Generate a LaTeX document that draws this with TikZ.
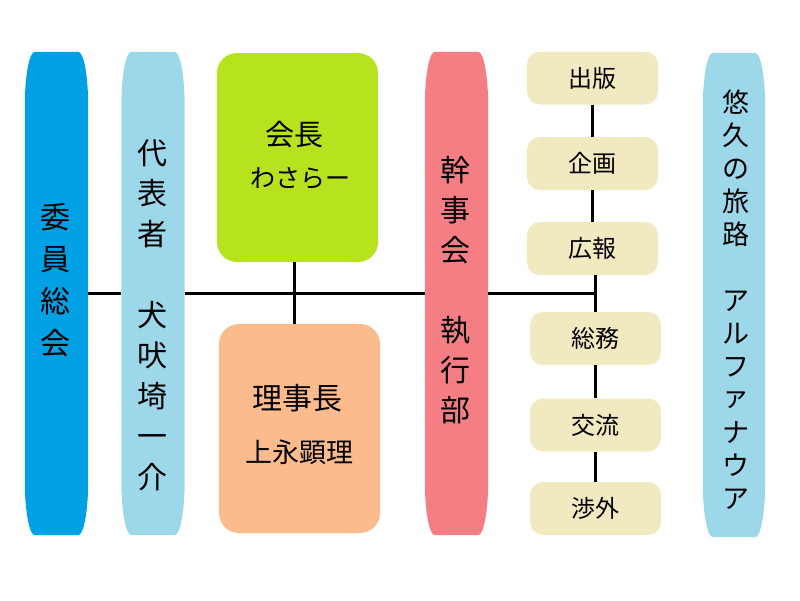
\documentclass[tikz,border=0pt]{standalone}
\usepackage{fontspec}
\newfontfamily\jp{Noto Sans CJK JP}
\usetikzlibrary{calc}
\definecolor{cblue}{RGB}{0,160,228}
\definecolor{clight}{RGB}{157,216,234}
\definecolor{cpink}{RGB}{244,126,131}
\definecolor{cgreen}{RGB}{182,227,30}
\definecolor{cpeach}{RGB}{251,187,140}
\definecolor{cbeige}{RGB}{241,234,193}
\newcommand\pillarbg[2]{%
 \fill[#2] let \p1=(#1.north west), \p2=(#1.south east) in
 (\x1,\y1-55pt) .. controls (\x1,\y1-24pt) and (\x1+4.5pt,\y1) .. (\x1+10pt,\y1)
 -- (\x2-10pt,\y1) .. controls (\x2-4.5pt,\y1) and (\x2,\y1-24pt) .. (\x2,\y1-55pt)
 -- (\x2,\y2+55pt) .. controls (\x2,\y2+24pt) and (\x2-4.5pt,\y2) .. (\x2-10pt,\y2)
 -- (\x1+10pt,\y2) .. controls (\x1+4.5pt,\y2) and (\x1,\y2+24pt) .. (\x1,\y2+55pt) -- cycle;}
\tikzset{
 pillar/.style={minimum width=63pt, minimum height=483pt, inner sep=0pt},
 bigbox/.style={minimum width=161pt, minimum height=209pt, inner sep=0pt, rounded corners=20pt},
 smallbox/.style={fill=cbeige, minimum width=131pt, minimum height=53pt, inner sep=0pt, rounded corners=13pt, font=\jp\fontsize{24}{28}\selectfont},
 vtext/.style={align=center, inner sep=0pt},
 lbl/.style={inner sep=0pt},
 conn/.style={draw=black, line width=3pt},
}
\begin{document}
\begin{tikzpicture}[x=1pt,y=-1pt]
\useasboundingbox (0,0) rectangle (800,600);
% pillars
\node[pillar] (iin) at (56.5,293.5) {};
\pillarbg{iin}{cblue}
\node[pillar] (dai) at (153,293.5) {};
\pillarbg{dai}{clight}
\node[pillar] (kan) at (456.5,293.5) {};
\pillarbg{kan}{cpink}
\node[pillar, minimum width=62pt, minimum height=484pt] (yuu) at (734,295) {};
\pillarbg{yuu}{clight}
% pillar texts
\node[vtext, font=\jp\fontsize{30}{42}\selectfont] (tiin) at (55,280) {委\\員\\総\\会};
\node[vtext, font=\jp\fontsize{30}{40.5}\selectfont] (tdai) at (152,315) {代\\表\\者\\[40.5pt]犬\\吠\\埼\\一\\介};
\node[vtext, font=\jp\fontsize{30}{40}\selectfont] (tkan) at (455,290) {幹\\事\\会\\[40pt]執\\行\\部};
\node[vtext, font=\jp\fontsize{27}{33}\selectfont] (tyuu) at (736,300) {悠\\久\\の\\旅\\路\\[33pt]ア\\ル\\フ\\\raisebox{3pt}{ァ}\\ナ\\ウ\\ア};
% big boxes
\node[bigbox, fill=cgreen] (kai) at (297.5,157.5) {};
\node[lbl, font=\jp\fontsize{29}{32}\selectfont] (tkai1) at (294,135) {会長};
\node[lbl, font=\jp\fontsize{25}{28}\selectfont] (tkai2) at (300,178) {わさらー};
\node[bigbox, fill=cpeach] (riji) at (299.5,428.5) {};
\node[lbl, font=\jp\fontsize{30}{32}\selectfont] (triji1) at (297,398) {理事長};
\node[lbl, font=\jp\fontsize{27}{30}\selectfont] (triji2) at (299,452) {上永顕理};
% right column
\node[smallbox] (shuppan) at (592.5,78) {出版};
\node[smallbox] (kikaku) at (592.5,163.5) {企画};
\node[smallbox] (kouhou) at (592.5,248.5) {広報};
\node[smallbox] (soumu) at (595.5,338.5) {総務};
\node[smallbox] (kouryuu) at (595.5,425) {交流};
\node[smallbox] (shougai) at (595.5,508.5) {渉外};
% junctions
\coordinate (jv) at (294,293);
\coordinate (jr) at (595,293);
% connectors
\draw[conn] (iin.east |- jv) -- (dai.west |- jv);
\draw[conn] (dai.east |- jv) -- (kan.west |- jv);
\draw[conn] (kan.east |- jv) -- (jr);
\draw[conn] (kai.south -| jv) -- (riji.north -| jv);
\draw[conn] (shuppan.south) -- (kikaku.north);
\draw[conn] (kikaku.south) -- (kouhou.north);
\draw[conn] (kouhou.south -| jr) -- (soumu.north -| jr);
\draw[conn] (soumu.south -| jr) -- (kouryuu.north -| jr);
\draw[conn] (kouryuu.south -| jr) -- (shougai.north -| jr);
\end{tikzpicture}
\end{document}
